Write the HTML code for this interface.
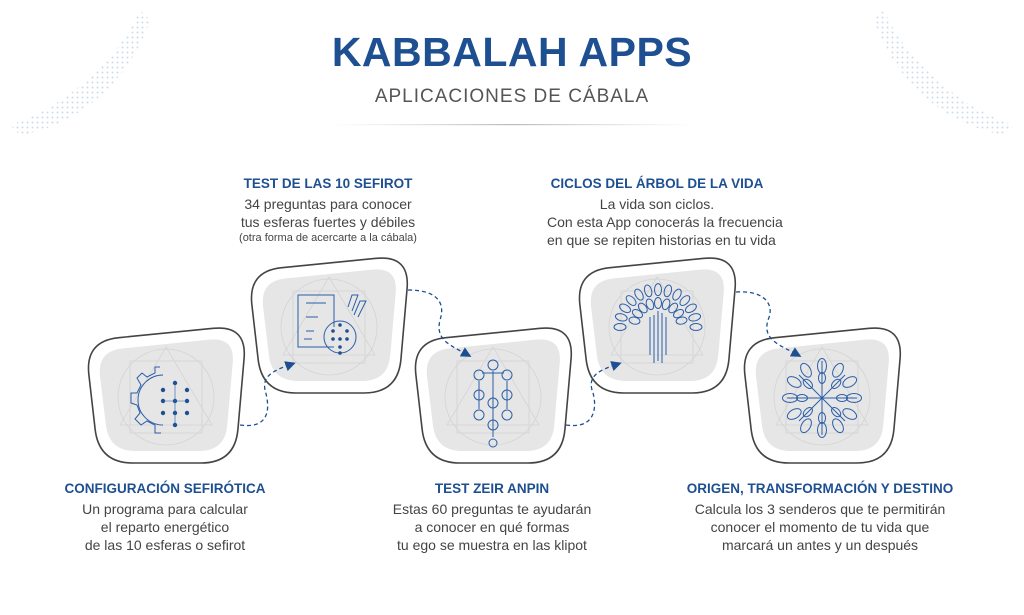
<!DOCTYPE html>
<html><head><meta charset="utf-8">
<style>
body{margin:0;width:1024px;height:615px;background:#fff;position:relative;overflow:hidden;font-family:"Liberation Sans",sans-serif}
.t{position:absolute;text-align:center;white-space:nowrap}
.h{color:#1d4f91;font-weight:bold;font-size:13.5px}
.p{color:#444;font-size:14px;line-height:18px}
</style></head><body>
<svg width="1024" height="615" style="position:absolute;left:0;top:0">
<defs>
<linearGradient id="ln" x1="0" x2="1"><stop offset="0" stop-color="#ccc" stop-opacity="0"/><stop offset=".5" stop-color="#bbb"/><stop offset="1" stop-color="#ccc" stop-opacity="0"/></linearGradient>
<pattern id="dots" width="5" height="5" patternUnits="userSpaceOnUse"><circle cx="2.5" cy="2.5" r="1" fill="#7ea3cc"/></pattern>
<marker id="ar" markerWidth="8" markerHeight="8" refX="5" refY="4" orient="auto"><path d="M0,0 L8,4 L0,8z" fill="#1d4f91"/></marker>
</defs>
<path d="M10,125 C60,110 120,60 140,10 L150,20 C130,80 80,125 20,135z" fill="url(#dots)" opacity=".4"/>
<path d="M1014,125 C964,110 904,60 884,10 L874,20 C894,80 944,125 1004,135z" fill="url(#dots)" opacity=".4"/>
<rect x="330" y="124" width="365" height="1.2" fill="url(#ln)"/>
<g id="boxes"></g>
<g fill="none" stroke="#1d4f91" stroke-width="1.3" stroke-dasharray="4,3">
<path d="M240,425 C275,430 268,400 265,390 C262,375 275,370 292,364" marker-end="url(#ar)"/>
<path d="M408,290 C440,290 445,305 440,320 C435,340 450,345 468,355" marker-end="url(#ar)"/>
<path d="M566,425 C600,430 596,400 592,390 C588,375 600,370 618,364" marker-end="url(#ar)"/>
<path d="M736,292 C765,290 775,305 768,320 C762,340 780,345 798,355" marker-end="url(#ar)"/>
</g>
</svg>
<div class="t" style="left:0;width:1024px;top:29px;font-size:41px;font-weight:bold;color:#1d4f91;letter-spacing:0.5px">KABBALAH APPS</div>
<div class="t" style="left:0;width:1024px;top:86px;font-size:19px;color:#555;letter-spacing:1px">APLICACIONES DE CÁBALA</div>

<div class="t" style="left:228px;width:200px;top:176px"><div class="h">TEST DE LAS 10 SEFIROT</div><div class="p" style="margin-top:4px">34 preguntas para conocer<br>tus esferas fuertes y débiles</div><div class="p" style="font-size:11px;line-height:14px">(otra forma de acercarte a la cábala)</div></div>
<div class="t" style="left:547px;width:220px;top:176px"><div class="h">CICLOS DEL ÁRBOL DE LA VIDA</div><div class="p" style="margin-top:4px">La vida son ciclos.<br>Con esta App conocerás la frecuencia<br>en que se repiten historias en tu vida</div></div>
<div class="t" style="left:45px;width:240px;top:481px"><div class="h">CONFIGURACIÓN SEFIRÓTICA</div><div class="p" style="margin-top:4px">Un programa para calcular<br>el reparto energético<br>de las 10 esferas o sefirot</div></div>
<div class="t" style="left:372px;width:240px;top:481px"><div class="h">TEST ZEIR ANPIN</div><div class="p" style="margin-top:4px">Estas 60 preguntas te ayudarán<br>a conocer en qué formas<br>tu ego se muestra en las klipot</div></div>
<div class="t" style="left:660px;width:320px;top:481px"><div class="h">ORIGEN, TRANSFORMACIÓN Y DESTINO</div><div class="p" style="margin-top:4px">Calcula los 3 senderos que te permitirán<br>conocer el momento de tu vida que<br>marcará un antes y un después</div></div>

<script>
function rp(pts,r){let d="";const n=pts.length;for(let i=0;i<n;i++){const p=pts[i],a=pts[(i-1+n)%n],b=pts[(i+1)%n];
const la=Math.hypot(a[0]-p[0],a[1]-p[1]),lb=Math.hypot(b[0]-p[0],b[1]-p[1]);
const s=[p[0]+(a[0]-p[0])*r/la,p[1]+(a[1]-p[1])*r/la],e=[p[0]+(b[0]-p[0])*r/lb,p[1]+(b[1]-p[1])*r/lb];
d+=(i?"L":"M")+s[0]+","+s[1]+"Q"+p[0]+","+p[1]+" "+e[0]+","+e[1];}return d+"Z";}
const pos=[[85,325],[248,255],[412,325],[576,255],[741,325]];
let h="";
const outer=[[0,16],[162,0],[150,138],[14,138]];
const inner=[[12,26],[150,12],[140,126],[24,126]];
pos.forEach(([x,y],k)=>{
h+=`<g transform="translate(${x},${y})"><path d="${rp(outer,34)}" fill="#fff" stroke="#444" stroke-width="1.6"/><path d="${rp(inner,26)}" fill="#e6e6e6"/>
<g fill="none" stroke="#d4d4d4" stroke-width=".8"><circle cx="81" cy="72" r="48"/><rect x="45" y="36" width="72" height="72"/><path d="M81,22 L127,100 L35,100Z"/></g>
<g stroke="#2b5ea8" fill="none" stroke-width="1">`;
if(k==0){h+=`<path d="M78,50 A22,22 0 0 0 78,100"/><path d="M75,42 L70,42 L70,48 L62,52 L57,48 L52,53 L56,60 L52,68 L46,68 L46,78 L52,80 L55,88 L50,94 L56,100 L62,96 L70,100 L70,108 L76,108"/><g fill="#1d4f91" stroke="none">${[[90,58],[78,65],[102,65],[78,76],[90,76],[102,76],[78,88],[90,88],[102,88],[90,100]].map(c=>`<circle cx="${c[0]}" cy="${c[1]}" r="2.2"/>`).join("")}</g><path d="M90,58V100M78,76H102" stroke-width=".6"/>`;}
if(k==1){h+=`<path d="M86,92H50V40H86V72"/><path d="M58,48H78M58,62H70M58,76H66M56,84H64"/><circle cx="92" cy="82" r="16"/><path d="M100,52L104,40H110L104,56M106,60L112,46H118L110,62"/><g fill="#1d4f91" stroke="none">${[[92,70],[85,76],[99,76],[85,84],[92,84],[99,84],[92,92],[92,98]].map(c=>`<circle cx="${c[0]}" cy="${c[1]}" r="1.8"/>`).join("")}</g>`;}
if(k==2){h+=`<circle cx="81" cy="40" r="5"/><circle cx="67" cy="50" r="5"/><circle cx="95" cy="50" r="5"/><circle cx="67" cy="70" r="5"/><circle cx="95" cy="70" r="5"/><circle cx="81" cy="78" r="5"/><circle cx="67" cy="90" r="5"/><circle cx="95" cy="90" r="5"/><circle cx="81" cy="100" r="5"/><circle cx="81" cy="118" r="4"/><path d="M81,46V112M67,56V84M95,56V84M70,48H92"/>`;}
if(k==3){h+=`<path d="M78,60V108M82,56V106M86,58V108M74,62V100M90,62V100"/>`;for(let i=0;i<13;i++){const a=-Math.PI+i*Math.PI/12,cx=82+38*Math.cos(a),cy=72+34*Math.sin(a)*1.1;h+=`<ellipse cx="${cx}" cy="${cy}" rx="3.5" ry="6" transform="rotate(${a*180/Math.PI+90} ${cx} ${cy})"/>`;}for(let i=0;i<9;i++){const a=-Math.PI+0.2+i*(Math.PI-0.4)/8,cx=82+24*Math.cos(a),cy=70+22*Math.sin(a);h+=`<ellipse cx="${cx}" cy="${cy}" rx="3.5" ry="5.5" transform="rotate(${a*180/Math.PI+90} ${cx} ${cy})"/>`;}}
if(k==4){h+=`<path d="M81,36V110M58,50L104,96M104,50L58,96M46,73H116"/>`;for(let i=0;i<12;i++){const a=i*Math.PI/6,cx=81+32*Math.cos(a),cy=73+32*Math.sin(a);h+=`<ellipse cx="${cx}" cy="${cy}" rx="4.5" ry="7.5" transform="rotate(${a*180/Math.PI+90} ${cx} ${cy})"/>`;}for(let i=0;i<8;i++){const a=i*Math.PI/4,cx=81+20*Math.cos(a),cy=73+20*Math.sin(a);h+=`<ellipse cx="${cx}" cy="${cy}" rx="3.5" ry="5.5" transform="rotate(${a*180/Math.PI+90} ${cx} ${cy})"/>`;}}
h+=`</g></g>`;});
document.getElementById("boxes").innerHTML=h;
</script>
</body></html>
